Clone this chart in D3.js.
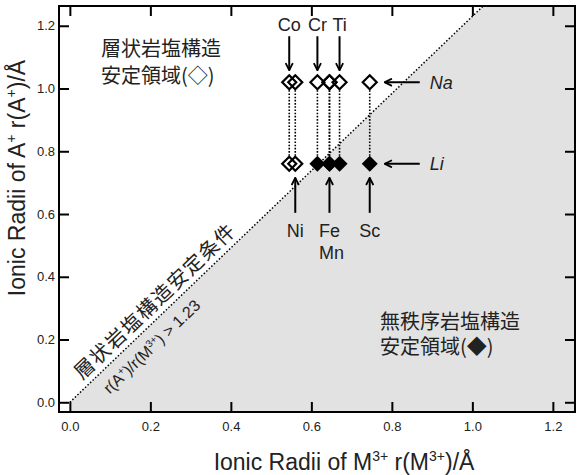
<!DOCTYPE html>
<html>
<head>
<meta charset="utf-8">
<script src="https://cdn.jsdelivr.net/npm/d3@7"></script>
<style>
  body { margin: 0; background: #fff; }
  text { font-family: "Liberation Sans", Arial, sans-serif; fill: #222; }
  .cjk { font-family: "Noto Sans CJK JP", sans-serif; }
</style>
</head>
<body>
<svg id="chart"></svg>
<script>
// M3+ ionic radii (x) of the transition metals
var elements = ["Co", "Ni", "Cr", "Fe", "Mn", "Ti", "Sc"];
var radiusM = [0.545, 0.56, 0.615, 0.645, 0.645, 0.67, 0.745];
// A+ ionic radii (y)
var alkali = ["Na", "Li"];
var radiusA = [1.02, 0.76];
// true = layered (open diamond), false = disordered (filled diamond)
var layeredNa = [true, true, true, true, true, true, true];
var layeredLi = [true, true, false, false, false, false, false];
// labels with arrows
var topNames = ["Co", "Cr", "Ti"];
var topRadii = [0.545, 0.615, 0.67];
var bottomNames = [["Ni"], ["Fe", "Mn"], ["Sc"]];
var bottomRadii = [0.56, 0.645, 0.745];
var ratioLimit = 1.23;
var xTicks = [0, 0.2, 0.4, 0.6, 0.8, 1.0, 1.2];
var yTicks = [0, 0.2, 0.4, 0.6, 0.8, 1.0, 1.2];

var width = 582, height = 475;
var mLeft = 59, mRight = 575, mTop = 6, mBottom = 412;

var svg = d3.select("#chart").attr("width", width).attr("height", height);

var x = d3.scaleLinear().domain([-0.027, 1.255]).range([mLeft, mRight]);
var y = d3.scaleLinear().domain([-0.031, 1.263]).range([mBottom, mTop]);

var defs = svg.append("defs");
defs.append("clipPath").attr("id", "plotclip")
    .append("rect").attr("x", mLeft).attr("y", mTop)
    .attr("width", mRight - mLeft).attr("height", mBottom - mTop);
defs.append("marker").attr("id", "head")
    .attr("viewBox", "0 0 10 10").attr("refX", 9).attr("refY", 5)
    .attr("markerWidth", 9).attr("markerHeight", 9)
    .attr("markerUnits", "userSpaceOnUse").attr("orient", "auto")
    .append("path").attr("d", "M1,1 L9,5 L1,9")
    .attr("fill", "none").attr("stroke", "#000").attr("stroke-width", 2);

var plot = svg.append("g").attr("clip-path", "url(#plotclip)");

// shaded disordered region below r(A)/r(M) = 1.23
var yMin = y.domain()[0], yMax = y.domain()[1], xMax = x.domain()[1];
var shade = [[0, 0], [yMax / ratioLimit, yMax], [xMax, yMax], [xMax, yMin], [0, yMin]];
plot.append("path")
    .attr("d", d3.line().x(function (d) { return x(d[0]); }).y(function (d) { return y(d[1]); })(shade) + "Z")
    .attr("fill", "#e2e2e2");

plot.append("line")
    .attr("x1", x(0)).attr("y1", y(0))
    .attr("x2", x(yMax / ratioLimit)).attr("y2", y(yMax))
    .attr("stroke", "#000").attr("stroke-width", 1.5)
    .attr("stroke-dasharray", "1.5,2");

// axes, ticks on all four sides pointing inwards
var fmt = d3.format(".1f");
var axes = [
    svg.append("g").attr("transform", "translate(0," + mBottom + ")")
        .call(d3.axisBottom(x).tickValues(xTicks).tickFormat(fmt).tickSizeInner(-10).tickSizeOuter(0).tickPadding(10)),
    svg.append("g").attr("transform", "translate(0," + mTop + ")")
        .call(d3.axisTop(x).tickValues(xTicks).tickFormat("").tickSizeInner(-10).tickSizeOuter(0)),
    svg.append("g").attr("transform", "translate(" + mLeft + ",0)")
        .call(d3.axisLeft(y).tickValues(yTicks).tickFormat(fmt).tickSizeInner(-10).tickSizeOuter(0).tickPadding(4)),
    svg.append("g").attr("transform", "translate(" + mRight + ",0)")
        .call(d3.axisRight(y).tickValues(yTicks).tickFormat("").tickSizeInner(-10).tickSizeOuter(0))
];
axes.forEach(function (a) {
    a.attr("font-size", 13).attr("font-family", "'Liberation Sans', Arial, sans-serif");
    a.select(".domain").remove();
    a.selectAll(".tick line").attr("stroke", "#000").attr("stroke-width", 2);
    a.selectAll(".tick text").attr("fill", "#333");
});

svg.append("rect").attr("x", mLeft).attr("y", mTop)
    .attr("width", mRight - mLeft).attr("height", mBottom - mTop)
    .attr("fill", "none").attr("stroke", "#000").attr("stroke-width", 2);

// axis titles
var xt = svg.append("text").attr("x", 344).attr("y", 470)
    .attr("text-anchor", "middle").attr("font-size", 23);
xt.append("tspan").text("Ionic Radii of M");
xt.append("tspan").attr("font-size", 14).attr("dy", -9).text("3+");
xt.append("tspan").attr("dy", 9).text(" r(M");
xt.append("tspan").attr("font-size", 14).attr("dy", -9).text("3+");
xt.append("tspan").attr("dy", 9).text(")/Å");

var yt = svg.append("text")
    .attr("transform", "translate(25,178) rotate(-90)")
    .attr("text-anchor", "middle").attr("font-size", 23);
yt.append("tspan").text("Ionic Radii of A");
yt.append("tspan").attr("font-size", 14).attr("dy", -9).text("+");
yt.append("tspan").attr("dy", 9).text(" r(A");
yt.append("tspan").attr("font-size", 14).attr("dy", -9).text("+");
yt.append("tspan").attr("dy", 9).text(")/Å");

// dotted verticals joining Na and Li rows
svg.selectAll(".link").data(radiusM).enter().append("line")
    .attr("x1", function (d) { return x(d); }).attr("x2", function (d) { return x(d); })
    .attr("y1", y(radiusA[0]) + 8).attr("y2", y(radiusA[1]) - 8)
    .attr("stroke", "#000").attr("stroke-width", 1.6).attr("stroke-dasharray", "1.6,1.6");

function diamond(s) { return "M0," + (-s) + "L" + s + ",0L0," + s + "L" + (-s) + ",0Z"; }

function drawRow(ya, layered) {
    svg.append("g").selectAll("path").data(radiusM).enter().append("path")
        .attr("transform", function (d) { return "translate(" + x(d) + "," + y(ya) + ")"; })
        .attr("d", function (d, i) { return layered[i] ? diamond(7) : diamond(8); })
        .attr("fill", function (d, i) { return layered[i] ? "none" : "#000"; })
        .attr("stroke", "#000")
        .attr("stroke-width", function (d, i) { return layered[i] ? 2.2 : 0; });
}
drawRow(radiusA[0], layeredNa);
drawRow(radiusA[1], layeredLi);

// arrows and element labels
function arrow(x1, y1, x2, y2) {
    svg.append("line").attr("x1", x1).attr("y1", y1).attr("x2", x2).attr("y2", y2)
        .attr("stroke", "#000").attr("stroke-width", 2).attr("marker-end", "url(#head)");
}
var yNa = y(radiusA[0]), yLi = y(radiusA[1]);
topRadii.forEach(function (r, i) {
    arrow(x(r), yNa - 46, x(r), yNa - 12);
    svg.append("text").attr("x", x(r)).attr("y", yNa - 51)
        .attr("text-anchor", "middle").attr("font-size", 18).text(topNames[i]);
});
bottomRadii.forEach(function (r, i) {
    arrow(x(r), yLi + 49, x(r), yLi + 14);
    bottomNames[i].forEach(function (n, j) {
        svg.append("text").attr("x", x(r) + j * 2).attr("y", yLi + 73 + j * 22)
            .attr("text-anchor", "middle").attr("font-size", 18).text(n);
    });
});
radiusA.forEach(function (r, i) {
    var xs = x(d3.max(radiusM));
    arrow(xs + 50, y(r), xs + 15, y(r));
    svg.append("text").attr("x", xs + 60).attr("y", y(r) + 6.5)
        .attr("font-size", 18).attr("font-style", "italic").text(alkali[i]);
});

// region labels
function block(x0, y0, lines, gap) {
    lines.forEach(function (t, i) {
        svg.append("text").attr("class", "cjk").attr("font-size", 20)
            .attr("x", x0).attr("y", y0 + i * gap).text(t);
    });
}
block(101, 56, ["層状岩塩構造", "安定領域(◇)"], 27);
block(380, 329, ["無秩序岩塩構造", "安定領域(◆)"], 25);

// condition text along the boundary
var angle = Math.atan2(y(0) - y(ratioLimit), x(1) - x(0)) * 180 / Math.PI;
var cond = svg.append("g")
    .attr("transform", "translate(" + x(0) + "," + y(0) + ") rotate(" + (-angle) + ")");
cond.append("text").attr("class", "cjk").attr("x", 24).attr("y", -7)
    .attr("font-size", 20).attr("letter-spacing", 1.5).text("層状岩塩構造安定条件");
var c2 = cond.append("text").attr("x", 34).attr("y", 22).attr("font-size", 16);
c2.append("tspan").text("r(A");
c2.append("tspan").attr("font-size", 10).attr("dy", -6).text("+");
c2.append("tspan").attr("dy", 6).text(")/r(M");
c2.append("tspan").attr("font-size", 10).attr("dy", -6).text("3+");
c2.append("tspan").attr("dy", 6).text(") > 1.23");
</script>
</body>
</html>
